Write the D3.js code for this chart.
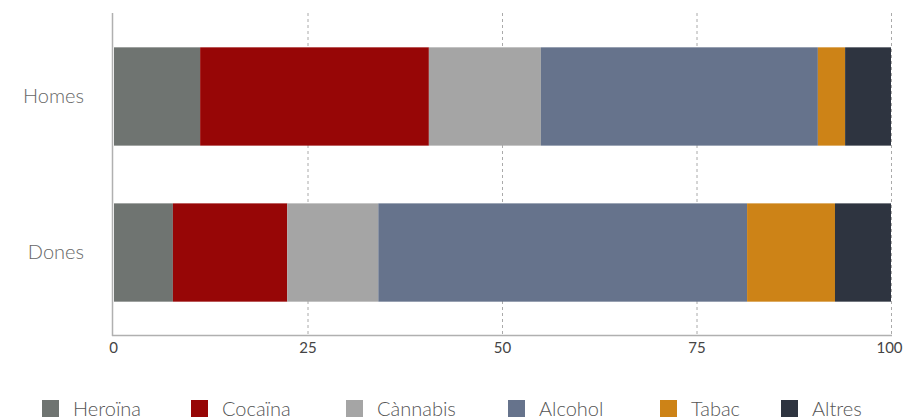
<!DOCTYPE html>
<html>
<head>
<meta charset="utf-8">
<script src="https://cdn.jsdelivr.net/npm/d3@7/dist/d3.min.js"></script>
<style>
  html, body { margin: 0; padding: 0; background: #fff; }
  svg { display: block; }
  text { font-family: Lato, "Open Sans", sans-serif; }
</style>
</head>
<body>
<svg id="chart" width="903" height="420"></svg>
<script>
const categories = ["Homes", "Dones"];
const seriesNames = ["Heroïna", "Cocaïna", "Cànnabis", "Alcohol", "Tabac", "Altres"];
const heroina  = [11.2, 7.7];
const cocaina  = [29.4, 14.7];
const cannabis = [14.4, 11.7];
const alcohol  = [35.6, 47.4];
const tabac    = [3.5, 11.3];
const altres   = [5.9, 7.2];
const tickValues = [0, 25, 50, 75, 100];
const colors = ["#6f7471", "#970606", "#a5a5a5", "#66738c", "#cd8317", "#2e3440"];

const seriesValues = [heroina, cocaina, cannabis, alcohol, tabac, altres];
const rows = categories.map((c, i) => {
  const r = { cat: c };
  seriesNames.forEach((s, j) => r[s] = seriesValues[j][i]);
  return r;
});

const svg = d3.select("#chart");
const x = d3.scaleLinear().domain([0, 100]).range([113, 891]);
const y = d3.scaleBand().domain(categories).range([13, 336]).paddingInner(0.37).paddingOuter(0.22);
const color = d3.scaleOrdinal().domain(seriesNames).range(colors);

// grid lines
svg.append("g").selectAll("line")
  .data(tickValues.filter(d => d > 0))
  .join("line")
  .attr("x1", d => x(d) + 0.5).attr("x2", d => x(d) + 0.5)
  .attr("y1", 13).attr("y2", 336)
  .attr("stroke", "#aaaaaa").attr("stroke-width", 1)
  .attr("stroke-dasharray", "3,3");

// stacked bars
const stacked = d3.stack().keys(seriesNames)(rows);
svg.append("g").selectAll("g")
  .data(stacked)
  .join("g")
  .attr("fill", d => color(d.key))
  .selectAll("rect")
  .data(d => d)
  .join("rect")
  .attr("x", d => x(d[0]) + (d[0] === 0 ? 1 : 0))
  .attr("width", d => x(d[1]) - x(d[0]) - (d[0] === 0 ? 1 : 0))
  .attr("y", d => y(d.data.cat))
  .attr("height", y.bandwidth());

// axes lines
svg.append("line")
  .attr("x1", 112.5).attr("x2", 112.5).attr("y1", 13).attr("y2", 336)
  .attr("stroke", "#b0b0b0").attr("stroke-width", 1.5);
svg.append("line")
  .attr("x1", 112).attr("x2", 892).attr("y1", 335.5).attr("y2", 335.5)
  .attr("stroke", "#b0b0b0").attr("stroke-width", 1.5);

// x axis via d3
const xAxis = d3.axisBottom(x).tickValues(tickValues).tickSize(0).tickPadding(6);
const gx = svg.append("g").attr("transform", "translate(0,336)").call(xAxis);
gx.select(".domain").remove();
gx.selectAll("text")
  .attr("font-size", 15).attr("fill", "#444")
  .style("font-family", "Lato, sans-serif");
gx.selectAll(".tick").filter(d => d === 100).select("text").attr("dx", -2);

// y labels via d3 axis
const yAxis = d3.axisLeft(y).tickSize(0).tickPadding(29);
const gy = svg.append("g").attr("transform", "translate(113,0)").call(yAxis);
gy.select(".domain").remove();
gy.selectAll("text")
  .attr("font-size", 20).attr("fill", "#666")
  .style("font-family", "Lato, sans-serif").style("font-weight", 300);

// legend
const legendX = [42, 191, 346, 508, 660, 781];
const lg = svg.append("g").selectAll("g")
  .data(seriesNames)
  .join("g")
  .attr("transform", (d, i) => `translate(${legendX[i]},400)`);
lg.append("rect").attr("width", 17).attr("height", 17).attr("fill", d => color(d));
lg.append("text")
  .attr("x", 31).attr("y", 16)
  .attr("font-size", 20).attr("fill", "#555").style("font-weight", 300)
  .text(d => d);
</script>
</body>
</html>
